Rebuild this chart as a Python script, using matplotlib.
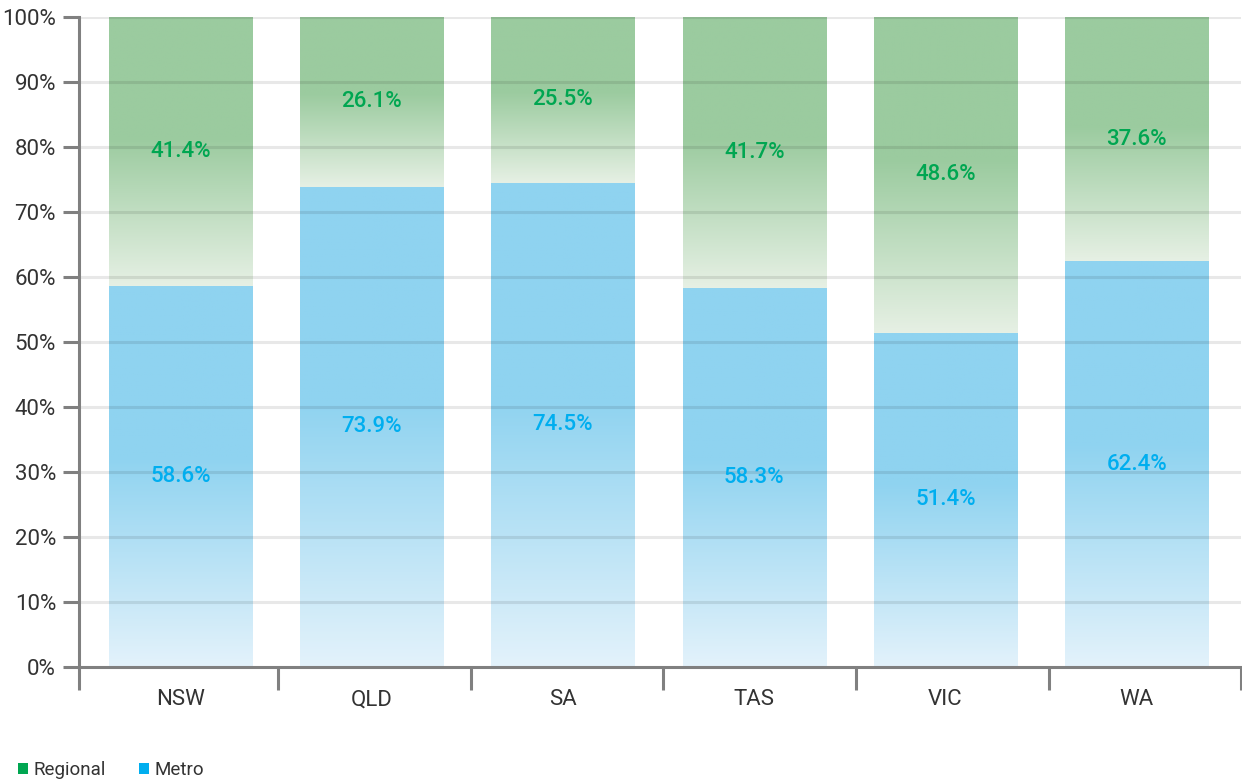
import numpy as np
import matplotlib
matplotlib.use("Agg")
import matplotlib.pyplot as plt
from matplotlib.patches import Patch
from matplotlib.colors import to_rgb

plt.rcParams['font.family'] = ['Roboto', 'DejaVu Sans']

categories = ["NSW", "QLD", "SA", "TAS", "VIC", "WA"]
metro = [58.6, 73.9, 74.5, 58.3, 51.4, 62.4]
regional = [41.4, 26.1, 25.5, 41.7, 48.6, 37.6]
yticks = [0, 10, 20, 30, 40, 50, 60, 70, 80, 90, 100]

blue_top, blue_bot = "#8fd3f0", "#e3f2fb"
green_top, green_bot = "#9bcb9f", "#e6f0e4"
blue_txt, green_txt = "#00aeef", "#00a651"
axis_col = "#808080"
grid_col = "#000000"

fig = plt.figure(figsize=(12.42, 7.79), dpi=100)
ax = fig.add_axes([79/1242, 1-667/779, (1241-79)/1242, (667-17)/779])

width = 0.748


def grad_img(ctop, cbot, n=200):
    t = np.linspace(0, 1, n)  # 0 bottom -> 1 top
    f = np.clip(t / 0.55, 0, 1)
    top = np.array(to_rgb(ctop))
    bot = np.array(to_rgb(cbot))
    cols = bot[None, :] * (1 - f[:, None]) + top[None, :] * f[:, None]
    return cols[:, None, :]


for i, (m, r) in enumerate(zip(metro, regional)):
    x0, x1 = i - width/2, i + width/2
    ax.imshow(grad_img(blue_top, blue_bot), extent=[x0, x1, 0, m],
              origin='lower', aspect='auto', interpolation='bilinear', zorder=1)
    ax.imshow(grad_img(green_top, green_bot), extent=[x0, x1, m, m + r],
              origin='lower', aspect='auto', interpolation='bilinear', zorder=1)
    ax.text(i, m/2, f"{m:.1f}%", ha='center', va='center', color=blue_txt,
            fontsize=16, fontweight='medium', zorder=4)
    ax.text(i, m + r/2, f"{r:.1f}%", ha='center', va='center', color=green_txt,
            fontsize=16, fontweight='medium', zorder=4)

# gridlines on top of bars
for yv in yticks[1:]:
    ax.axhline(yv, color=grid_col, alpha=0.09, lw=2.2, zorder=3)

ax.set_xlim(-0.53, 5.545)
ax.set_ylim(0, 100)

ax.set_yticks(yticks)
ax.set_yticklabels([f"{v}%" for v in yticks])
ax.set_xticks(range(len(categories)))
ax.set_xticklabels(categories)
ax.set_xticks([0.51, 1.52, 2.525, 3.53, 4.54, 5.545], minor=True)

ax.tick_params(axis='y', length=11.5, width=2.2, color=axis_col, pad=5,
               labelsize=16, labelcolor="#333333")
ax.tick_params(axis='x', which='major', length=0, pad=16, labelsize=16,
               labelcolor="#333333")
ax.tick_params(axis='x', which='minor', length=16.5, width=2.2, color=axis_col,
               direction='out')

for s in ['top', 'right']:
    ax.spines[s].set_visible(False)
for s in ['left', 'bottom']:
    ax.spines[s].set_color(axis_col)
    ax.spines[s].set_linewidth(2.2)
    ax.spines[s].set_zorder(5)
ax.spines['left'].set_bounds(0, 100)

# extend left spine below axis like the boundary ticks
ax.plot([-0.53, -0.53], [0, -3.55], color=axis_col, lw=2.2, clip_on=False,
        solid_capstyle='butt', zorder=5)

handles = [Patch(facecolor=green_txt, label="Regional"),
           Patch(facecolor=blue_txt, label="Metro")]
fig.legend(handles=handles, loc='lower left', bbox_to_anchor=(1/1242, -17/779),
           ncol=2, frameon=False, fontsize=13.5, handlelength=0.55,
           handleheight=0.6, handletextpad=0.3, columnspacing=1.75,
           labelcolor="#333333")

fig.savefig("out.png", dpi=100)
